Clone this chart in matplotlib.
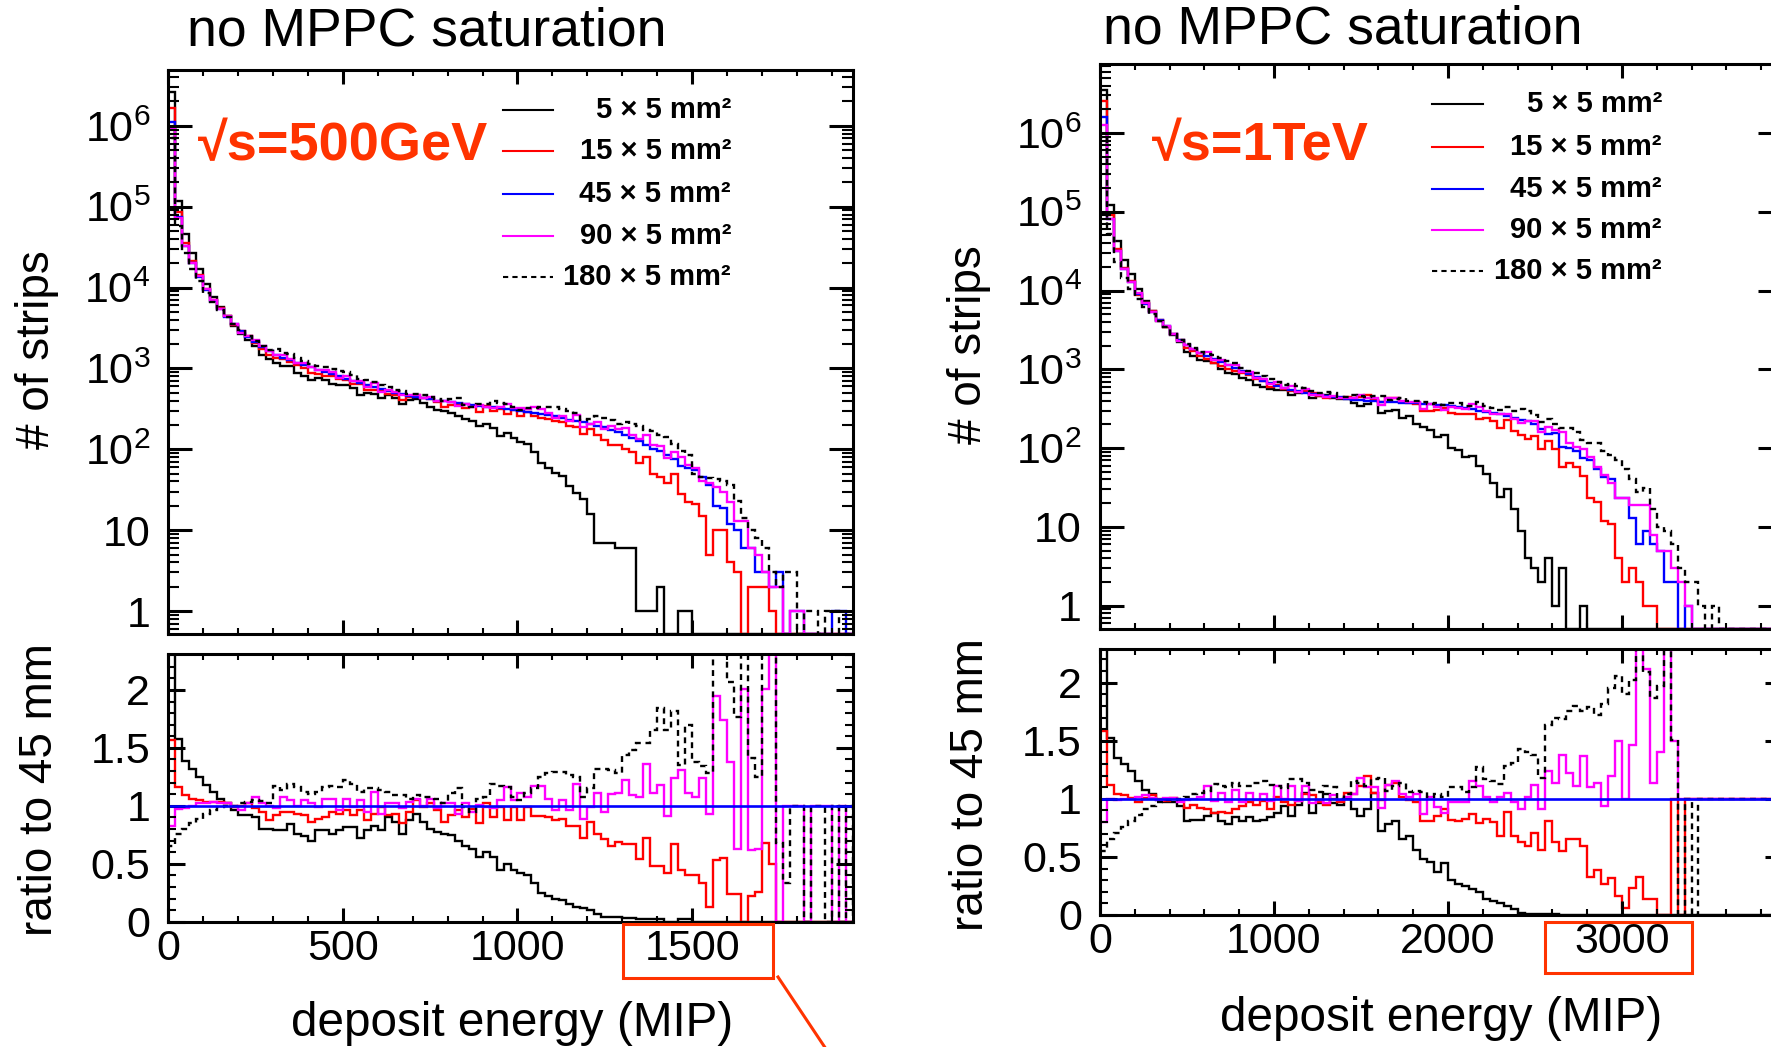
import numpy as np
import matplotlib
matplotlib.use("Agg")
import matplotlib.pyplot as plt
from matplotlib.ticker import FixedLocator, FixedFormatter, LogLocator, MultipleLocator, NullFormatter
from matplotlib.patches import Rectangle
from matplotlib.lines import Line2D

plt.rcParams["font.family"] = ["Liberation Sans", "DejaVu Sans"]
plt.rcParams["mathtext.fontset"] = "custom"
plt.rcParams["mathtext.rm"] = "Liberation Sans"
plt.rcParams["mathtext.it"] = "Liberation Sans:italic"
plt.rcParams["mathtext.bf"] = "Liberation Sans:bold"

W, H = 1771, 1047
ORANGE = "#ff3300"

labels = ["5 \u00d7 5 mm\u00b2", "15 \u00d7 5 mm\u00b2", "45 \u00d7 5 mm\u00b2",
          "90 \u00d7 5 mm\u00b2", "180 \u00d7 5 mm\u00b2"]
colors = ["black", "red", "blue", "magenta", "black"]
styles = ["-", "-", "-", "-", (0, (2.5, 2))]

# ---- sqrt(s) = 500 GeV : 20 MIP bins, 0-1960 ----
edges_500 = np.arange(0, 1961, 20)
h5_500 = [2.6e6, 1.18e5, 4.6e4, 2.64e4, 1.69e4, 1.1e4, 7.7e3, 5.7e3, 4.4e3, 3.36e3,
          2.67e3, 2.25e3, 1.89e3, 1.48e3, 1.32e3, 1.17e3, 1.07e3, 1.06e3, 889, 814,
          721, 762, 715, 646, 632, 615, 574, 475, 490, 486,
          435, 473, 430, 365, 405, 414, 370, 332, 308, 296,
          285, 259, 234, 222, 193, 203, 185, 145, 158, 137,
          124, 116, 93, 68, 58, 51, 47, 35, 29, 24,
          16, 7, 7, 7, 6, 6, 6, 1, 1, 1,
          2, 0, 0, 1, 1, 0, 0, 0, 0, 0,
          0, 0, 0, 0, 0, 0, 0, 0, 0, 0,
          0, 0, 0, 0, 0, 0, 0, 0]
h15_500 = [1.66e6, 8.7e4, 3.6e4, 2.12e4, 1.42e4, 9.6e3, 7.1e3, 5.56e3, 4.39e3, 3.47e3,
           2.9e3, 2.5e3, 2.06e3, 1.76e3, 1.45e3, 1.36e3, 1.29e3, 1.2e3, 1.09e3, 1.01e3,
           886, 859, 815, 808, 744, 720, 644, 634, 546, 544,
           545, 483, 465, 408, 437, 467, 426, 423, 384, 335,
           350, 355, 324, 341, 293, 345, 297, 319, 277, 302,
           260, 287, 257, 246, 236, 224, 218, 193, 187, 155,
           176, 149, 132, 114, 112, 100, 92, 68, 81, 49,
           45, 38, 50, 28, 22, 21, 15, 5, 10, 10,
           4, 3, 0, 2, 2, 2, 1, 0, 0, 0,
           0, 0, 0, 0, 0, 0, 0, 0]
h45_500 = [1.1e6, 7.5e4, 3.3e4, 2.0e4, 1.35e4, 9.3e3, 6.9e3, 5.4e3, 4.3e3, 3.5e3,
           2.9e3, 2.45e3, 2.1e3, 1.85e3, 1.65e3, 1.48e3, 1.36e3, 1.26e3, 1.17e3, 1.1e3,
           1030, 965, 905, 850, 800, 750, 700, 660, 620, 585,
           550, 525, 500, 480, 460, 445, 430, 415, 400, 390,
           380, 370, 360, 352, 345, 338, 330, 322, 315, 305,
           295, 290, 282, 270, 262, 255, 245, 232, 225, 215,
           205, 196, 186, 175, 162, 150, 138, 125, 112, 102,
           94, 85, 75, 62, 58, 55, 46, 36, 20, 19,
           12, 10, 6, 6, 3, 3, 2, 3, 0, 1,
           1, 0, 0, 0, 0, 1, 1, 0]
h90_500 = [9.2e5, 7.3e4, 3.23e4, 2.0e4, 1.38e4, 9.5e3, 7.1e3, 5.5e3, 4.39e3, 3.5e3,
           2.78e3, 2.5e3, 2.27e3, 1.89e3, 1.65e3, 1.45e3, 1.47e3, 1.32e3, 1.17e3, 1.16e3,
           1050, 955, 959, 901, 768, 795, 693, 693, 589, 655,
           512, 536, 510, 470, 474, 472, 430, 440, 392, 398,
           388, 344, 367, 334, 348, 335, 323, 338, 365, 320,
           327, 313, 330, 316, 278, 245, 257, 223, 268, 191,
           203, 218, 177, 193, 180, 183, 150, 135, 152, 113,
           111, 77, 93, 81, 64, 59, 40, 38, 34, 30,
           22, 13, 13, 6, 5, 3, 2, 2, 0, 1,
           1, 0, 0, 0, 0, 0, 0, 0]
h180_500 = [7.0e5, 5.7e4, 2.64e4, 1.7e4, 1.2e4, 8.65e3, 6.62e3, 5.35e3, 4.3e3, 3.5e3,
            2.96e3, 2.52e3, 2.2e3, 1.92e3, 1.68e3, 1.73e3, 1.55e3, 1.5e3, 1.36e3, 1.23e3,
            1130, 1080, 1050, 995, 928, 915, 833, 739, 713, 673,
            627, 588, 545, 523, 488, 485, 464, 448, 424, 398,
            422, 426, 356, 334, 366, 365, 393, 377, 365, 329,
            310, 322, 324, 338, 335, 329, 316, 295, 281, 232,
            236, 259, 246, 229, 207, 216, 204, 193, 172, 168,
            150, 140, 115, 95, 85, 50, 46, 44, 43, 40,
            36, 23, 14, 10, 8, 6, 3, 2, 3, 3,
            0, 1, 1, 0, 1, 1, 0, 0]
# ratio to 45 mm, read from the lower pad
r5_500 = [2.4, 1.58, 1.39, 1.32, 1.25, 1.18, 1.12, 1.06, 1.02, 0.96,
          0.92, 0.92, 0.90, 0.80, 0.80, 0.79, 0.79, 0.84, 0.76, 0.74,
          0.70, 0.79, 0.79, 0.76, 0.79, 0.82, 0.82, 0.72, 0.79, 0.83,
          0.79, 0.90, 0.86, 0.76, 0.88, 0.93, 0.86, 0.80, 0.77, 0.76,
          0.75, 0.70, 0.65, 0.63, 0.56, 0.60, 0.56, 0.45, 0.50, 0.45,
          0.42, 0.40, 0.33, 0.25, 0.22, 0.20, 0.19, 0.15, 0.13, 0.12,
          0.10, 0.07, 0.04, 0.04, 0.04, 0.03, 0.03, 0.02, 0.02, 0.02,
          0.02, 0, 0, 0.02, 0.02, 0, 0, 0, 0, 0,
          0, 0, 0, 0, 0, 0, 0, 0, 0, 0,
          0, 0, 0, 0, 0, 0, 0, 0]
r15_500 = [1.57, 1.16, 1.09, 1.06, 1.05, 1.03, 1.03, 1.03, 1.02, 0.99,
           1.0, 1.02, 0.98, 0.95, 0.88, 0.92, 0.95, 0.95, 0.93, 0.92,
           0.86, 0.89, 0.90, 0.95, 0.93, 0.96, 0.92, 0.96, 0.88, 0.93,
           0.99, 0.92, 0.93, 0.85, 0.95, 1.05, 0.99, 1.02, 0.96, 0.86,
           0.92, 0.96, 0.90, 0.97, 0.85, 1.02, 0.90, 0.99, 0.88, 0.99,
           0.88, 0.99, 0.91, 0.91, 0.90, 0.88, 0.89, 0.83, 0.83, 0.72,
           0.86, 0.76, 0.71, 0.65, 0.69, 0.67, 0.67, 0.54, 0.72, 0.48,
           0.48, 0.42, 0.67, 0.45, 0.40, 0.40, 0.33, 0.13, 0.53, 0.55,
           0.24, 0.24, 0, 0.22, 0.26, 0.68, 0.50, 0, 0, 0,
           0, 0, 0, 0, 0, 0, 0, 0]
r90_500 = [0.83, 0.97, 0.98, 1.0, 1.02, 1.02, 1.03, 1.02, 1.02, 1.0,
           0.96, 1.02, 1.08, 1.02, 1.0, 0.98, 1.08, 1.05, 1.0, 1.05,
           1.02, 0.99, 1.06, 1.06, 0.96, 1.06, 0.99, 1.05, 0.95, 1.12,
           0.93, 1.02, 1.02, 0.98, 1.03, 1.06, 1.0, 1.06, 0.98, 1.02,
           1.02, 0.93, 1.02, 0.95, 1.01, 0.99, 0.98, 1.05, 1.16, 1.05,
           1.11, 1.08, 1.17, 1.17, 1.06, 0.96, 1.05, 0.96, 1.19, 0.89,
           0.99, 1.11, 0.95, 1.10, 1.11, 1.22, 1.09, 1.08, 1.36, 1.11,
           1.18, 0.91, 1.24, 1.31, 1.11, 1.08, 1.24, 0.93, 1.95, 1.74,
           1.38, 0.63, 2.01, 0.62, 0.63, 2.01, 2.5, 0, 1, 1,
           1, 0, 1, 1, 1, 0, 1, 0]
r180_500 = [0.65, 0.76, 0.80, 0.85, 0.89, 0.93, 0.96, 0.99, 1.0, 1.0,
            1.02, 1.03, 1.05, 1.04, 1.02, 1.17, 1.14, 1.19, 1.16, 1.12,
            1.10, 1.12, 1.16, 1.17, 1.16, 1.22, 1.19, 1.12, 1.15, 1.15,
            1.14, 1.12, 1.09, 1.09, 1.06, 1.09, 1.08, 1.08, 1.06, 1.02,
            1.11, 1.15, 0.99, 0.95, 1.06, 1.08, 1.19, 1.17, 1.16, 1.08,
            1.05, 1.11, 1.15, 1.25, 1.28, 1.29, 1.29, 1.27, 1.25, 1.08,
            1.15, 1.32, 1.32, 1.31, 1.28, 1.44, 1.48, 1.54, 1.54, 1.65,
            1.84, 1.65, 1.82, 1.35, 1.70, 1.38, 1.34, 1.28, 2.4, 2.4,
            2.07, 1.77, 2.4, 1.41, 1.25, 2.4, 2.4, 0.68, 0.33, 1,
            1, 0, 1, 1, 0, 1, 0, 1]

# ---- sqrt(s) = 1 TeV : 40 MIP bins, 0-3920 ----
edges_1tev = np.arange(0, 3921, 40)
h5_1tev = [3.5e6, 1.22e5, 4.3e4, 2.47e4, 1.61e4, 1.04e4, 7.3e3, 5.5e3, 4.16e3, 3.4e3,
           2.72e3, 2.21e3, 1.66e3, 1.49e3, 1.31e3, 1.26e3, 1.2e3, 1.01e3, 897, 882,
           770, 731, 640, 590, 559, 541, 545, 468, 499, 530,
           431, 456, 478, 432, 418, 425, 375, 344, 362, 412,
           279, 299, 308, 244, 254, 205, 187, 170, 140, 146,
           100, 95, 78, 80, 60, 47, 36, 24, 30, 17,
           9, 4, 3, 2, 4, 1, 3, 0, 0, 1,
           0, 0, 0, 0, 0, 0, 0, 0, 0, 0,
           0, 0, 0, 0, 0, 0, 0, 0, 0, 0,
           0, 0, 0, 0, 0, 0, 0, 0]
h15_1tev = [2.53e6, 8.96e4, 3.33e4, 1.96e4, 1.31e4, 8.73e3, 6.87e3, 5.46e3, 4.2e3, 3.43e3,
            2.83e3, 2.33e3, 1.89e3, 1.73e3, 1.47e3, 1.35e3, 1.2e3, 1.11e3, 1.01e3, 956,
            893, 844, 751, 706, 605, 627, 563, 523, 515, 525,
            505, 461, 437, 450, 427, 446, 428, 450, 478, 412,
            384, 429, 433, 384, 369, 359, 296, 292, 302, 319,
            280, 271, 270, 271, 237, 241, 224, 182, 227, 165,
            145, 129, 142, 98, 122, 98, 57, 65, 58, 44,
            23, 21, 12, 11, 4, 2, 3, 2, 1, 1,
            0, 0, 0, 0, 0, 0, 0, 0, 0, 0,
            0, 0, 0, 0, 0, 0, 0, 0]
h45_1tev = [1.6e6, 8.0e4, 3.2e4, 1.9e4, 1.3e4, 9.0e3, 6.8e3, 5.3e3, 4.2e3, 3.5e3,
            2.8e3, 2.35e3, 2.05e3, 1.82e3, 1.6e3, 1.48e3, 1.36e3, 1.25e3, 1.15e3, 1.05e3,
            950, 870, 790, 720, 665, 615, 580, 550, 525, 505,
            490, 475, 460, 450, 440, 425, 412, 405, 398, 392,
            388, 383, 380, 376, 373, 370, 366, 360, 355, 350,
            342, 335, 325, 312, 300, 290, 280, 268, 255, 242,
            230, 218, 200, 175, 150, 155, 104, 100, 91, 74,
            71, 55, 43, 40, 23, 23, 13, 6, 9, 6,
            5, 2, 2, 0, 1, 0, 0, 0, 0, 0,
            0, 0, 0, 0, 0, 0, 0, 0]
h90_1tev = [1.25e6, 8.0e4, 3.17e4, 1.9e4, 1.3e4, 9.2e3, 7.0e3, 5.35e3, 4.16e3, 3.54e3,
            2.83e3, 2.28e3, 2.03e3, 1.82e3, 1.63e3, 1.64e3, 1.33e3, 1.31e3, 1.12e3, 1.13e3,
            922, 914, 782, 749, 652, 683, 580, 611, 515, 561,
            470, 470, 442, 464, 436, 434, 428, 478, 438, 431,
            357, 429, 437, 391, 380, 385, 318, 367, 330, 308,
            332, 325, 315, 359, 333, 296, 272, 273, 268, 235,
            209, 222, 224, 159, 186, 170, 160, 115, 104, 98,
            78, 58, 46, 36, 23, 23, 19, 19, 19, 8,
            5, 5, 3, 2, 1, 0, 0, 0, 0, 0,
            0, 0, 0, 0, 0, 0, 0, 0]
h180_1tev = [8.8e5, 5.2e4, 2.27e4, 1.44e4, 1.05e4, 7.74e3, 6.19e3, 4.98e3, 4.07e3, 3.47e3,
             2.77e3, 2.35e3, 2.09e3, 1.89e3, 1.68e3, 1.58e3, 1.54e3, 1.39e3, 1.27e3, 1.2e3,
             1050, 966, 901, 828, 745, 683, 632, 644, 614, 576,
             529, 504, 511, 495, 440, 442, 474, 462, 442, 459,
             458, 410, 422, 429, 395, 396, 388, 367, 369, 357,
             376, 369, 345, 343, 381, 339, 322, 303, 330, 300,
             310, 300, 260, 215, 235, 200, 178, 178, 162, 127,
             115, 115, 91, 82, 71, 55, 40, 28, 31, 17,
             10, 9, 6, 3, 2, 2, 1, 0, 1, 0,
             0, 0, 0, 0, 0, 0, 0, 0]
r5_1tev = [2.4, 1.52, 1.35, 1.30, 1.24, 1.15, 1.08, 1.04, 0.99, 0.97,
           0.97, 0.94, 0.81, 0.82, 0.82, 0.85, 0.88, 0.81, 0.78, 0.84,
           0.81, 0.84, 0.81, 0.82, 0.84, 0.88, 0.94, 0.85, 0.95, 1.05,
           0.88, 0.96, 1.04, 0.96, 0.95, 1.0, 0.91, 0.85, 0.91, 1.05,
           0.72, 0.78, 0.81, 0.65, 0.68, 0.56, 0.48, 0.46, 0.37, 0.45,
           0.30, 0.27, 0.25, 0.22, 0.20, 0.14, 0.12, 0.10, 0.08, 0.05,
           0.02, 0.01, 0.01, 0.01, 0.01, 0.01, 0, 0, 0, 0,
           0, 0, 0, 0, 0, 0, 0, 0, 0, 0,
           0, 0, 0, 0, 0, 0, 0, 0, 0, 0,
           0, 0, 0, 0, 0, 0, 0, 0]
r15_1tev = [1.58, 1.12, 1.04, 1.03, 1.01, 0.97, 1.01, 1.03, 1.0, 0.98,
            1.01, 0.99, 0.92, 0.95, 0.92, 0.91, 0.88, 0.89, 0.88, 0.91,
            0.94, 0.97, 0.95, 0.98, 0.91, 1.02, 0.97, 0.95, 0.98, 1.04,
            1.03, 0.97, 0.95, 1.0, 0.97, 1.05, 1.04, 1.11, 1.2, 1.05,
            0.99, 1.12, 1.14, 1.02, 0.99, 0.97, 0.81, 0.81, 0.85, 0.91,
            0.82, 0.81, 0.83, 0.87, 0.79, 0.83, 0.80, 0.68, 0.89, 0.68,
            0.63, 0.59, 0.71, 0.56, 0.81, 0.63, 0.55, 0.65, 0.65, 0.59,
            0.33, 0.39, 0.27, 0.32, 0.16, 0.06, 0.23, 0.33, 0.14, 0.14,
            0, 0, 1, 0, 1, 1, 1, 1, 1, 1,
            1, 1, 1, 1, 1, 1, 1, 1]
r90_1tev = [0.8, 1.0, 0.99, 1.0, 1.0, 1.02, 1.03, 1.01, 0.99, 1.01,
            1.01, 0.97, 0.99, 1.0, 1.02, 1.11, 0.98, 1.05, 0.97, 1.08,
            0.97, 1.05, 0.99, 1.04, 0.98, 1.11, 1.0, 1.11, 0.98, 1.11,
            0.96, 0.99, 0.96, 1.03, 0.99, 1.02, 1.04, 1.18, 1.10, 1.10,
            0.92, 1.12, 1.15, 1.04, 1.02, 1.04, 0.87, 1.02, 0.93, 0.88,
            0.97, 0.97, 0.97, 1.15, 1.11, 1.02, 0.97, 1.02, 1.05, 0.97,
            0.91, 1.02, 1.12, 0.91, 1.24, 1.14, 1.38, 1.22, 1.11, 1.37,
            1.10, 1.14, 0.94, 1.2, 1.5, 1.0, 1.46, 2.5, 2.12, 1.14,
            1.40, 2.5, 1.5, 1, 1, 1, 1, 1, 1, 1,
            1, 1, 1, 1, 1, 1, 1, 1]
r180_1tev = [0.55, 0.65, 0.71, 0.76, 0.81, 0.86, 0.91, 0.94, 0.97, 0.99,
             0.99, 1.0, 1.02, 1.04, 1.05, 1.07, 1.13, 1.11, 1.10, 1.14,
             1.11, 1.11, 1.14, 1.15, 1.12, 1.11, 1.09, 1.17, 1.17, 1.14,
             1.08, 1.06, 1.11, 1.10, 1.0, 1.04, 1.15, 1.14, 1.11, 1.17,
             1.18, 1.07, 1.11, 1.14, 1.06, 1.07, 1.06, 1.02, 1.04, 1.02,
             1.10, 1.10, 1.06, 1.10, 1.27, 1.17, 1.15, 1.13, 1.28, 1.31,
             1.43, 1.40, 1.38, 1.18, 1.64, 1.70, 1.69, 1.76, 1.80, 1.76,
             1.79, 1.72, 1.82, 1.95, 2.06, 1.90, 2.02, 2.5, 2.09, 1.87,
             1.97, 2.5, 1.51, 0, 1, 0, 1, 1, 1, 1,
             1, 1, 1, 1, 1, 1, 1, 1]

fig = plt.figure(figsize=(W / 100, H / 100), dpi=100)


def rect(x0, y0, x1, y1):
    # pixel box (top-left origin) -> figure fraction
    return [x0 / W, 1 - y1 / H, (x1 - x0) / W, (y1 - y0) / H]


def frame(ax, xmajor, xminor, ylen):
    for s in ax.spines.values():
        s.set_linewidth(2.2)
    ax.xaxis.set_major_locator(MultipleLocator(xmajor))
    ax.xaxis.set_minor_locator(MultipleLocator(xminor))
    ax.tick_params(which="both", direction="in", top=True, right=True, labelsize=31)
    ax.tick_params(axis="x", which="major", length=10, width=2.2, pad=5)
    ax.tick_params(axis="x", which="minor", length=4.5, width=1.5)
    ax.tick_params(axis="y", which="major", length=ylen, width=2.2, pad=13)
    ax.tick_params(axis="y", which="minor", length=ylen / 2.2, width=1.5)


def panel(x0, x1, top_box, low_box, edges, hists, ratios, ylim, rylim, xmajor, xminor):
    xmax = edges[-1]
    ax = fig.add_axes(rect(x0, top_box[0], x1, top_box[1]))
    for h, c, ls in zip(hists, colors, styles):
        h = np.asarray(h, float)
        ax.stairs(np.where(h > 0, h, ylim[0]), edges, baseline=ylim[0],
                  color=c, ls=ls, lw=1.7)
    ax.set_yscale("log")
    ax.set_ylim(*ylim)
    ax.set_xlim(0, xmax)
    ax.yaxis.set_major_locator(FixedLocator([1, 10, 1e2, 1e3, 1e4, 1e5, 1e6]))
    ax.yaxis.set_major_formatter(FixedFormatter(
        ["1", "10", r"$10^{2}$", r"$10^{3}$", r"$10^{4}$", r"$10^{5}$", r"$10^{6}$"]))
    ax.yaxis.set_minor_locator(LogLocator(base=10, subs=np.arange(2, 10), numticks=30))
    ax.yaxis.set_minor_formatter(NullFormatter())
    frame(ax, xmajor, xminor, 17)
    ax.tick_params(labelbottom=False)

    rx = fig.add_axes(rect(x0, low_box[0], x1, low_box[1]))
    for r, c, ls in zip(ratios, [colors[0], colors[1], colors[3], colors[4]],
                        [styles[0], styles[1], styles[3], styles[4]]):
        rx.stairs(r, edges, baseline=0, color=c, ls=ls, lw=1.7)
    rx.axhline(1.0, color="blue", lw=1.9)
    rx.set_xlim(0, xmax)
    rx.set_ylim(*rylim)
    rx.yaxis.set_major_locator(FixedLocator([0, 0.5, 1, 1.5, 2]))
    rx.yaxis.set_major_formatter(FixedFormatter(["0", "0.5", "1", "1.5", "2"]))
    rx.yaxis.set_minor_locator(MultipleLocator(0.1))
    frame(rx, xmajor, xminor, 12.5)
    rx.xaxis.set_major_formatter(plt.FuncFormatter(lambda v, p: "%d" % v))
    return ax, rx


panel(168.3, 852.7, (70, 634), (654, 921.7), edges_500,
      [h5_500, h15_500, h45_500, h90_500, h180_500],
      [r5_500, r15_500, r90_500, r180_500],
      (0.52, 4.9e6), (0, 2.31), 500, 100)
panel(1100, 1782, (64, 629), (649, 915), edges_1tev,
      [h5_1tev, h15_1tev, h45_1tev, h90_1tev, h180_1tev],
      [r5_1tev, r15_1tev, r90_1tev, r180_1tev],
      (0.506, 7.5e6), (0, 2.29), 1000, 200)

# titles, axis titles
for x, y in [(187, 46), (1103, 44)]:
    fig.text(x / W, 1 - y / H, "no MPPC saturation", fontsize=38.5, va="baseline", ha="left")
for x, y in [(37, 350), (969, 345)]:
    fig.text(x / W, 1 - y / H, "# of strips", fontsize=33, rotation=90, ha="center", va="center")
for x, y in [(40, 790), (971, 785)]:
    fig.text(x / W, 1 - y / H, "ratio to 45 mm", fontsize=33, rotation=90, ha="center", va="center")
for x, y in [(512, 1036), (1441, 1031)]:
    fig.text(x / W, 1 - y / H, "deposit energy (MIP)", fontsize=34.3, ha="center", va="baseline")

# energy labels
fig.text(198 / W, 1 - 160 / H, "\u221as=500GeV", color=ORANGE, fontsize=39,
         fontweight="bold", va="baseline")
fig.text(1152 / W, 1 - 160 / H, "\u221as=1TeV", color=ORANGE, fontsize=39,
         fontweight="bold", va="baseline")

# legends
for lx0, lx1, tx, rows in [(503, 553, 731, [110, 151, 194, 236, 277]),
                           (1432, 1483, 1662, [104, 147, 189, 230, 271])]:
    for lab, c, ls, y in zip(labels, colors, styles, rows):
        fy = 1 - y / H
        fig.add_artist(Line2D([lx0 / W, lx1 / W], [fy, fy], color=c, ls=ls, lw=1.5))
        fig.text(tx / W, fy, lab, fontsize=21, fontweight="bold", ha="right", va="center")

# red highlight boxes and pointer line
for x0, y0, x1, y1 in [(623, 924, 773, 978), (1545, 922, 1692, 973)]:
    fig.add_artist(Rectangle((x0 / W, 1 - y1 / H), (x1 - x0) / W, (y1 - y0) / H,
                             fill=False, ec=ORANGE, lw=2.2, transform=fig.transFigure))
fig.add_artist(Line2D([778 / W, 830 / W], [1 - 977 / H, 1 - 1055 / H], color=ORANGE, lw=2.2))

fig.savefig("out.png", dpi=100)
